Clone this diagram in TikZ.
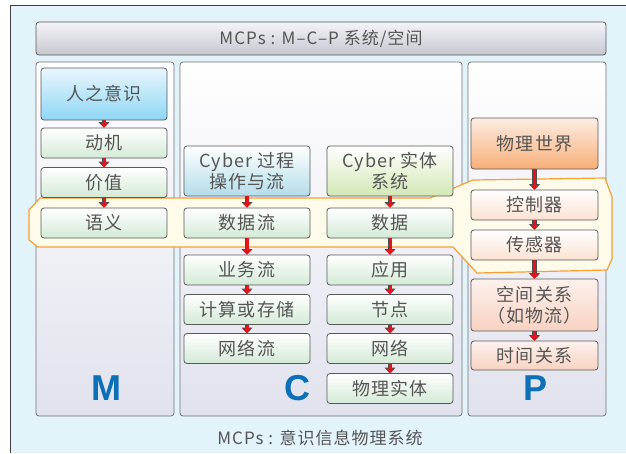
\documentclass[tikz,border=0pt]{standalone}
\usepackage{fontspec}
\setmainfont[LetterSpace=6]{Noto Sans CJK SC}
\newfontfamily\letterfont{Liberation Sans}
\usetikzlibrary{arrows.meta}
\definecolor{bgblue}{HTML}{E2F3FA}
\definecolor{txtgray}{HTML}{555555}
\definecolor{lav}{HTML}{E2E2EE}
\definecolor{grn}{HTML}{D3EAD6}
\definecolor{skyb}{HTML}{8ED6F4}
\definecolor{lblue}{HTML}{B3DDEA}
\definecolor{lgreen}{HTML}{D2E8B4}
\definecolor{orng}{HTML}{F8AE76}
\definecolor{peach}{HTML}{FBE2D2}
\definecolor{pink}{HTML}{F8D2C2}
\definecolor{hlfill}{HTML}{FFFBEA}
\definecolor{hlline}{HTML}{F6A033}
\definecolor{letblue}{HTML}{0B70B8}
\definecolor{arrred}{HTML}{E3141B}
\begin{document}
\begin{tikzpicture}[x=1pt,y=-1pt,
  font=\fontsize{18}{21}\selectfont,
  basebox/.style={draw=black!65, line width=0.8pt, rounded corners=3pt, text=txtgray, align=center, inner sep=0pt},
  panel/.style={basebox, draw=black!55, top color=white, bottom color=lav},
  gbox/.style={basebox, top color=white, bottom color=grn, minimum width=126pt, minimum height=30pt},
  redarr/.style={draw=arrred, line width=3pt, -{Triangle[length=4.5pt,width=9pt]},
     preaction={draw=black!70, line width=4.4pt, -{Triangle[length=5.5pt,width=10.6pt]}}},
  bigletter/.style={text=letblue, font=\letterfont\bfseries\fontsize{36}{36}\selectfont}
]
\useasboundingbox (0,0) rectangle (626,453);
\fill[bgblue] (10,5) rectangle (626,453);
\draw[black!75, line width=0.8pt] (10,453) -- (10,5) -- (626,5);

% title
\node[basebox, top color=white!60!lav, bottom color=lav!85!black!90, minimum width=570pt, minimum height=33pt, font=\fontsize{17}{20}\selectfont] (title) at (321,38.5) {MCPs : M–C–P 系统/空间};

% panels
\node[panel, minimum width=138pt, minimum height=354pt] (pM) at (105,239) {};
\node[panel, minimum width=282pt, minimum height=354pt] (pC) at (321,239) {};
\node[panel, minimum width=138pt, minimum height=354pt] (pP) at (537,239) {};

% highlight band
\draw[hlline, fill=hlfill, line width=1.2pt, line join=round]
  (40,198) -- (430,198) -- (473,180) -- (605,178) -- (612,197) -- (612,259)
  -- (607,270) -- (477,273) -- (453,247) -- (38,247) -- (29,240) -- (29,210) -- cycle;

% M column
\node[basebox, top color=white!80!skyb, bottom color=skyb, minimum width=126pt, minimum height=52pt] (mind) at (104,94) {人之意识};
\node[gbox] (dongji) at (104,143) {动机};
\node[gbox] (jiazhi) at (104,182.5) {价值};
\node[gbox] (yuyi) at (104,223) {语义};
\node[bigletter] (M) at (106,388) {M};

% C left
\node[basebox, top color=white, bottom color=lblue, minimum width=126pt, minimum height=50pt] (cproc) at (247,171) {Cyber 过程\\操作与流};
\node[gbox] (sjl) at (247,223) {数据流};
\node[gbox] (ywl) at (247,270) {业务流};
\node[gbox] (jsc) at (247,309.5) {计算或存储};
\node[gbox] (wll) at (247,348.5) {网络流};

% C right
\node[basebox, top color=white, bottom color=lgreen, minimum width=126pt, minimum height=50pt] (cent) at (390,171) {Cyber 实体\\系统};
\node[gbox] (sj) at (390,223) {数据};
\node[gbox] (yy) at (390,270) {应用};
\node[gbox] (jd) at (390,309.5) {节点};
\node[gbox] (wl) at (390,348.5) {网络};
\node[gbox] (wlst) at (390,388.5) {物理实体};
\node[bigletter] (C) at (297,388) {C};

% P column
\node[basebox, top color=peach!60, bottom color=orng, minimum width=127pt, minimum height=51pt] (wlsj) at (534.5,143.5) {物理世界};
\node[basebox, top color=white, bottom color=peach, minimum width=127pt, minimum height=30pt] (kzq) at (534.5,205) {控制器};
\node[basebox, top color=white, bottom color=peach, minimum width=127pt, minimum height=30pt] (cgq) at (534.5,245) {传感器};
\node[basebox, top color=white!70!pink, bottom color=pink, minimum width=127pt, minimum height=52pt] (kjgx) at (534.5,305) {空间关系\\（如物流）};
\node[basebox, top color=white!70!pink, bottom color=pink, minimum width=127pt, minimum height=29pt] (sjgx) at (534.5,355.5) {时间关系};
\node[bigletter] (P) at (535,388) {P};

% arrows
\foreach \a/\b in {mind/dongji, dongji/jiazhi, jiazhi/yuyi,
  cproc/sjl, sjl/ywl, ywl/jsc, jsc/wll,
  cent/sj, sj/yy, yy/jd, jd/wl, wl/wlst,
  wlsj/kzq, kzq/cgq, cgq/kjgx, kjgx/sjgx}
  \draw[redarr] (\a.south) -- (\b.north);

% bottom caption
\node[text=txtgray, font=\fontsize{17}{20}\selectfont] (caption) at (320,438) {MCPs : 意识信息物理系统};
\end{tikzpicture}
\end{document}
